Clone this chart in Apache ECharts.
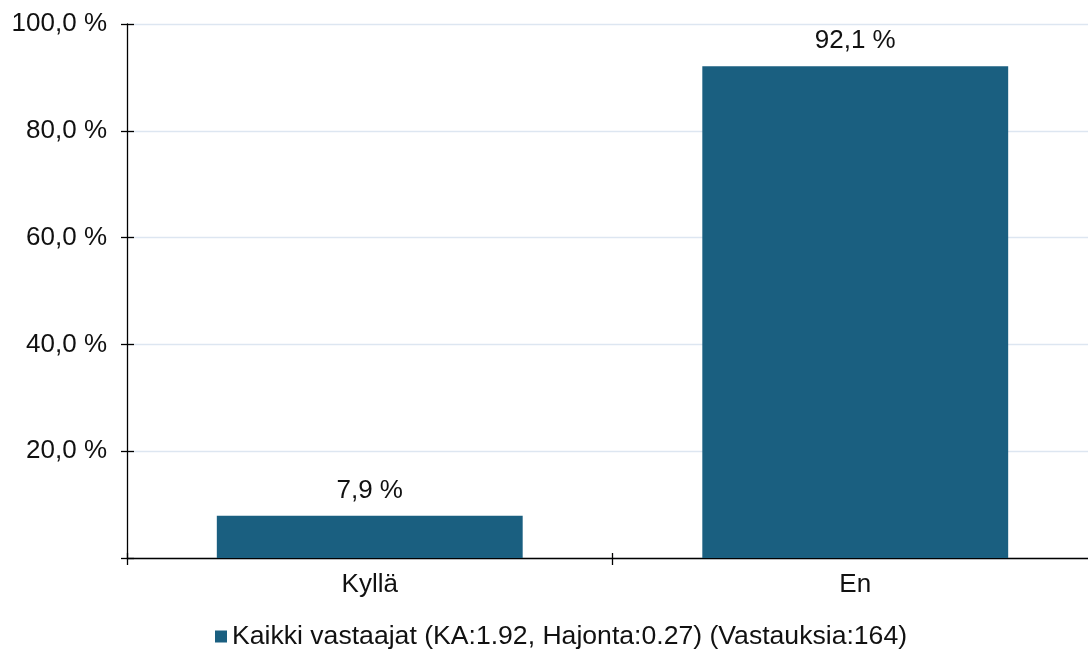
<!DOCTYPE html>
<html>
<head>
<meta charset="utf-8">
<script src="https://cdn.jsdelivr.net/npm/echarts@6/dist/echarts.min.js"></script>
<style>
  html, body { margin: 0; padding: 0; background: #fff; overflow: hidden; }
  /* kuvaaja jatkuu hieman ikkunan oikean reunan yli, kuten alkuperäisessä */
  #chart { width: 1098px; height: 651px; }
</style>
</head>
<body>
<div id="chart"></div>
<script>
const categories = ['Kyllä', 'En']
const values = [7.9, 92.1]
const seriesName = 'Kaikki vastaajat (KA:1.92, Hajonta:0.27) (Vastauksia:164)'
const yTicks = [0, 20, 40, 60, 80, 100]

const FONT = '"Liberation Sans", Arial, Helvetica, sans-serif'
const BAR_COLOR = '#1a5f80'

// suomalainen muoto: 92,1 %
const fmt = v => v.toFixed(1).replace('.', ',') + ' %'

const chart = echarts.init(document.getElementById('chart'))

const option = {
  animation: false,
  textStyle: { fontFamily: FONT },
  grid: { left: 127, top: 24, right: 0, height: 534 },
  legend: {
    left: 215,
    top: 623,
    padding: 0,
    itemWidth: 12,
    itemHeight: 12,
    itemGap: 10,
    icon: 'rect',
    textStyle: { fontSize: 26.6, color: '#111', fontFamily: FONT },
    data: [seriesName]
  },
  xAxis: [
    {
      type: 'category',
      data: categories,
      axisLine: { lineStyle: { color: '#000', width: 1.3 } },
      axisTick: { show: true, length: 7, lineStyle: { color: '#000', width: 1.3 } },
      axisLabel: { fontSize: 26, color: '#111', margin: 14, fontFamily: FONT },
      splitLine: { show: false }
    },
    {
      type: 'category',
      data: categories,
      position: 'bottom',
      axisLine: { show: false },
      axisTick: { show: true, inside: true, length: 5, lineStyle: { color: '#000', width: 1.3 } },
      axisLabel: { show: false },
      splitLine: { show: false }
    }
  ],
  yAxis: [
    {
      type: 'value',
      min: yTicks[0],
      max: yTicks[yTicks.length - 1],
      interval: 20,
      axisLine: { show: true, lineStyle: { color: '#000', width: 1.3 } },
      axisTick: { show: true, length: 6, lineStyle: { color: '#000', width: 1.3 } },
      axisLabel: {
        fontSize: 26,
        color: '#111',
        margin: 20,
        fontFamily: FONT,
        formatter: v => (v === 0 ? '' : fmt(v))
      },
      splitLine: { show: true, lineStyle: { color: '#dde6f1', width: 1.3 } }
    },
    {
      type: 'value',
      min: yTicks[0],
      max: yTicks[yTicks.length - 1],
      interval: 20,
      position: 'left',
      axisLine: { show: false },
      axisTick: { show: true, inside: true, length: 7, lineStyle: { color: '#000', width: 1.3 } },
      axisLabel: { show: false },
      splitLine: { show: false }
    }
  ],
  series: [
    {
      name: seriesName,
      type: 'bar',
      data: values,
      barWidth: '63%',
      itemStyle: { color: BAR_COLOR },
      label: {
        show: true,
        position: 'top',
        distance: 12,
        fontSize: 26,
        color: '#111',
        fontFamily: FONT,
        formatter: p => fmt(p.value)
      }
    }
  ]
}

chart.setOption(option)
</script>
</body>
</html>
